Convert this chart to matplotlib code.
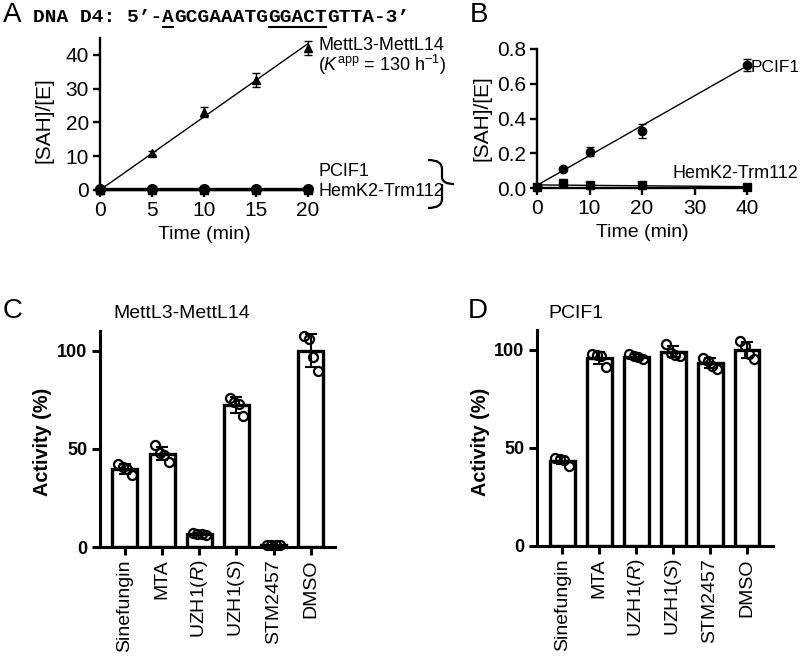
import numpy as np
import matplotlib
matplotlib.use("Agg")
import matplotlib.pyplot as plt
from matplotlib.path import Path
from matplotlib.patches import PathPatch
from matplotlib.lines import Line2D

plt.rcParams['font.family'] = ['Liberation Sans', 'DejaVu Sans']
plt.rcParams['mathtext.fontset'] = 'custom'
plt.rcParams['mathtext.rm'] = 'Liberation Sans'
plt.rcParams['mathtext.it'] = 'Liberation Sans:italic'
plt.rcParams['mathtext.bf'] = 'Liberation Sans:bold'

# ---------------- data ----------------
# Panel A (D4 DNA substrate)
time_a = [0, 5, 10, 15, 20]
mettl_a = [0, 11, 23, 32.5, 42]
mettl_a_err = [0, 0.5, 1.5, 2.0, 2.0]
pcif1_a = [0.3, 0.3, 0.3, 0.3, 0.3]
hemk2_a = [0.05, 0.05, 0.05, 0.05, 0.05]
kapp = 130  # h^-1

# Panel B
time_b = [0, 5, 10, 20, 40]
pcif1_b = [0.005, 0.11, 0.21, 0.33, 0.71]
pcif1_b_err = [0, 0.01, 0.025, 0.04, 0.035]
hemk2_b = [0.005, 0.03, 0.015, 0.015, 0.005]

# Panels C / D
compounds = ['Sinefungin', 'MTA', 'UZH1($\\mathit{R}$)', 'UZH1($\\mathit{S}$)', 'STM2457', 'DMSO']
act_c = [
    [42.2, 40.5, 39.5, 36.6],
    [51.7, 48.0, 47.0, 43.4],
    [7.0, 6.8, 6.5, 6.2],
    [75.7, 74.0, 73.0, 66.7],
    [1.2, 1.0, 0.8, 0.9],
    [107.7, 105.8, 97.0, 89.6],
]
act_d = [
    [44.7, 44.4, 44.0, 40.6],
    [97.8, 97.4, 96.9, 91.0],
    [97.8, 96.9, 96.0, 95.2],
    [102.9, 98.3, 97.4, 96.9],
    [95.7, 94.4, 91.8, 90.1],
    [104.6, 101.7, 97.8, 95.2],
]

# DNA header pieces (text, underlined?)
dna_pieces = [('DNA D4: 5\u2019-', False), ('A', True), ('GCGAAATG', False),
              ('GGACT', True), ('GTTA-3\u2019', False)]

W, H = 800, 656
fig = plt.figure(figsize=(W / 100, H / 100), dpi=100)


def px_axes(left, top, right, bottom):
    return fig.add_axes([left / W, 1 - bottom / H, (right - left) / W, (bottom - top) / H])


def fx(x):
    return x / W


def fy(y):
    return 1 - y / H


def style_line_axes(ax):
    for s in ['top', 'right']:
        ax.spines[s].set_visible(False)
    for s in ['left', 'bottom']:
        ax.spines[s].set_linewidth(1.7)
    ax.tick_params(direction='out', length=5, width=1.7, labelsize=15, pad=3)


# ---------------- Panel A ----------------
axA = px_axes(100, 38, 308, 190)
axA.set_xlim(0, 20)
axA.set_ylim(0, 45)
style_line_axes(axA)
axA.set_xticks([0, 5, 10, 15, 20])
axA.set_yticks([0, 10, 20, 30, 40])
tfit = np.array([0, 20])
axA.plot(tfit, kapp / 60 * tfit, color='black', lw=1.0, clip_on=False)
axA.errorbar(time_a, mettl_a, yerr=mettl_a_err, fmt='^', color='black', ms=6,
             elinewidth=1.0, capsize=3, capthick=1.0, clip_on=False, zorder=4)
axA.plot(time_a, pcif1_a, '-o', color='black', lw=1.7, ms=7, clip_on=False, zorder=4)
axA.plot(time_a, hemk2_a, '-s', color='black', lw=1.7, ms=6, clip_on=False, zorder=4)
axA.set_xlabel('Time (min)', fontsize=14, labelpad=4)

fig.text(fx(44), fy(120), '[SAH]/[E]', rotation=90, ha='center', va='center', fontsize=15)
fig.text(fx(318), fy(46), 'MettL3-MettL14', ha='left', va='center', fontsize=13)
fig.text(fx(318), fy(65), '($\\mathit{K}^{\\mathrm{app}}$ = 130 h$^{-1}$)', ha='left', va='center', fontsize=13)
fig.text(fx(318), fy(171), 'PCIF1', ha='left', va='center', fontsize=13)
fig.text(fx(318), fy(192), 'HemK2-Trm112', ha='left', va='center', fontsize=13)

# brace
bx, btop, bbot, btip, bmid = 442, 160, 208, 454, 184
verts = [
    (428, btop), (bx, btop), (bx, btop + 9),
    (bx, bmid - 7),
    (bx, bmid), (btip, bmid),
    (bx, bmid), (bx, bmid + 7),
    (bx, bbot - 9),
    (bx, bbot), (428, bbot),
]
codes = [Path.MOVETO, Path.CURVE3, Path.CURVE3, Path.LINETO, Path.CURVE3, Path.CURVE3,
         Path.MOVETO, Path.CURVE3, Path.LINETO, Path.CURVE3, Path.CURVE3]
verts_f = [(fx(x), fy(y)) for x, y in verts]
fig.patches.append(PathPatch(Path(verts_f, codes), transform=fig.transFigure,
                             fill=False, lw=1.6, color='black'))

fig.text(fx(3), fy(22), 'A', fontsize=20, va='baseline')

# ---------------- Panel B ----------------
axB = px_axes(537, 49, 747, 188)
axB.set_xlim(0, 40)
axB.set_ylim(0, 0.8)
style_line_axes(axB)
axB.set_xticks([0, 10, 20, 30, 40])
axB.set_yticks([0, 0.2, 0.4, 0.6, 0.8])
axB.set_yticklabels(['0.0', '0.2', '0.4', '0.6', '0.8'])
tb = np.array(time_b, dtype=float)
p1 = np.polyfit(tb, pcif1_b, 1)
p2 = np.polyfit(tb, hemk2_b, 1)
tline = np.array([0, 40])
axB.plot(tline, np.polyval(p1, tline), color='black', lw=1.0, clip_on=False)
axB.plot(tline, np.polyval(p2, tline), color='black', lw=1.0, clip_on=False)
axB.errorbar(time_b, pcif1_b, yerr=pcif1_b_err, fmt='o', color='black', ms=6,
             elinewidth=1.0, capsize=3, capthick=1.0, clip_on=False, zorder=4)
axB.plot(time_b, hemk2_b, 's', color='black', ms=5.5, clip_on=False, zorder=4)
axB.set_xlabel('Time (min)', fontsize=14, labelpad=4)
fig.text(fx(482), fy(118), '[SAH]/[E]', rotation=90, ha='center', va='center', fontsize=15)
fig.text(fx(751), fy(67), 'PCIF1', ha='left', va='center', fontsize=12.5)
fig.text(fx(672), fy(173), 'HemK2-Trm112', ha='left', va='center', fontsize=13)
fig.text(fx(470), fy(22), 'B', fontsize=20, va='baseline')


# ---------------- Panels C & D ----------------
def bar_panel(ax, data, xlim):
    x = np.arange(len(compounds))
    means = [np.mean(d) for d in data]
    sds = [np.std(d, ddof=1) for d in data]
    ax.bar(x, means, width=0.67, color='white', edgecolor='black', linewidth=2.4, zorder=2)
    ax.errorbar(x, means, yerr=sds, fmt='none', ecolor='black', elinewidth=1.5,
                capsize=4, capthick=1.5, zorder=3)
    offs = np.array([-0.18, -0.06, 0.06, 0.18])
    for i, d in enumerate(data):
        ax.plot(x[i] + offs, d, 'o', mfc='none', mec='black', ms=6.5, mew=1.6,
                zorder=4, clip_on=False)
    ax.set_xlim(*xlim)
    ax.set_ylim(0, 110)
    for s in ['top', 'right']:
        ax.spines[s].set_visible(False)
    for s in ['left', 'bottom']:
        ax.spines[s].set_linewidth(2.2)
    ax.set_yticks([0, 50, 100])
    ax.set_xticks(x)
    ax.set_xticklabels(compounds, rotation=90, fontsize=14)
    ax.tick_params(direction='out', length=6, width=2.2, pad=3)
    for lab in ax.get_yticklabels():
        lab.set_fontweight('bold')
        lab.set_fontsize(13)


axC = px_axes(100, 331, 335, 547)
bar_panel(axC, act_c, (-0.67, 5.65))
fig.text(fx(43), fy(442), 'Activity (%)', rotation=90, ha='center', va='center',
         fontsize=14.3, weight='bold')
fig.text(fx(182), fy(318), 'MettL3-MettL14', ha='center', va='baseline', fontsize=14)
fig.text(fx(3), fy(318), 'C', fontsize=20, va='baseline')

axD = px_axes(537, 330, 773, 546)
bar_panel(axD, act_d, (-0.68, 5.70))
fig.text(fx(481), fy(442), 'Activity (%)', rotation=90, ha='center', va='center',
         fontsize=14.3, weight='bold')
fig.text(fx(548), fy(318), 'PCIF1', ha='left', va='baseline', fontsize=14)
fig.text(fx(468), fy(318), 'D', fontsize=20, va='baseline')

# ---------------- DNA header, laid out piece by piece ----------------
dna_texts = [fig.text(fx(33), fy(22), p, ha='left', va='baseline', fontsize=14,
                      family='Liberation Mono', weight='bold') for p, _ in dna_pieces]
renderer = fig.canvas.get_renderer()


def place_dna(fs):
    x = 33.0
    boxes = []
    for t in dna_texts:
        t.set_fontsize(fs)
        t.set_x(fx(x))
        bb = t.get_window_extent(renderer)
        boxes.append((x, x + bb.width))
        x += bb.width
    return x - 33.0, boxes


total, _ = place_dna(14)
total, boxes = place_dna(14 * (410 - 33) / total)
for (x0, x1), (_, ul) in zip(boxes, dna_pieces):
    if ul:
        fig.add_artist(Line2D([fx(x0 + 1), fx(x1 - 1)], [fy(27), fy(27)],
                              transform=fig.transFigure, color='black', lw=1.5))

fig.savefig('out.png', dpi=100)
